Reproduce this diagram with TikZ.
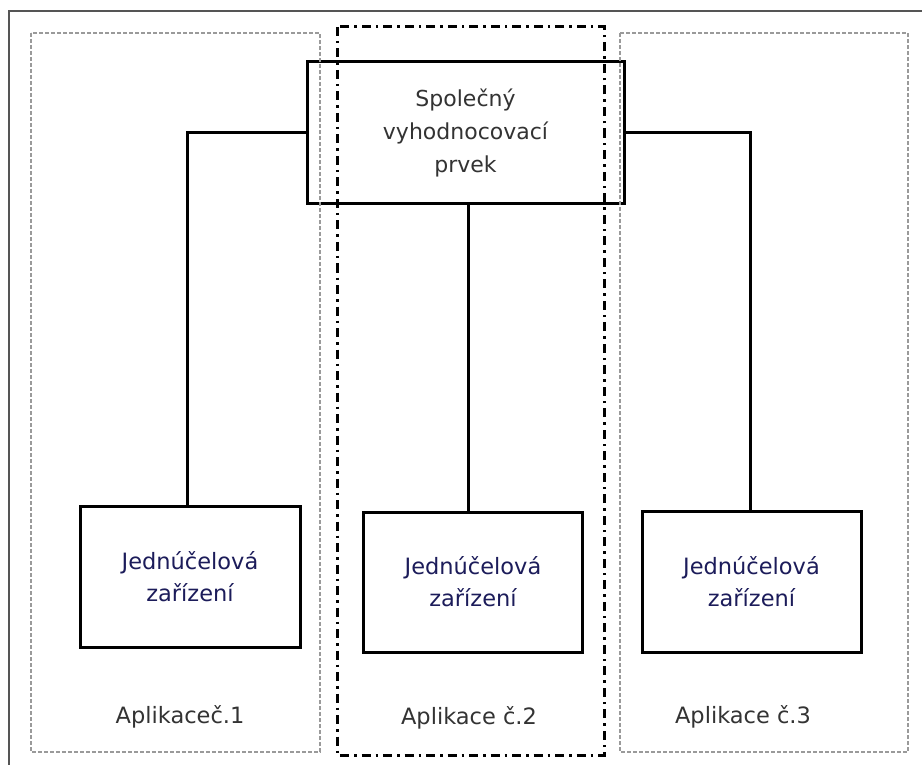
\documentclass[tikz,border=0pt]{standalone}
\usepackage{fontspec}
\setmainfont{DejaVu Sans}
\definecolor{labelgray}{HTML}{333333}
\definecolor{devtext}{HTML}{1C1C5A}
\definecolor{framegray}{HTML}{555555}
\definecolor{groupgray}{HTML}{9A9A9A}
\begin{document}
\begin{tikzpicture}[x=1pt,y=-1pt,
  box/.style={draw=black,line width=3pt,align=center,inner sep=0pt},
  devbox/.style={box,minimum width=220pt,minimum height=141pt,text=devtext,
    font=\fontsize{22.5}{32}\selectfont},
  link/.style={draw=black,line width=3pt},
  group/.style={draw=groupgray,line width=1.4pt,dash pattern=on 4pt off 2pt},
  maingroup/.style={draw=black,line width=3pt,dash pattern=on 9pt off 5pt on 2.5pt off 5pt},
  grouplabel/.style={text=labelgray,font=\fontsize{22.5}{26}\selectfont,inner sep=0pt}]
\useasboundingbox (0,0) rectangle (922,765);
\fill[white] (0,0) rectangle (922,765);
% outer frame (top and left edges)
\draw[framegray,line width=1.3pt] (9,765) -- (9,11) -- (922,11);
% shared evaluation element
\node[box,minimum width=317pt,minimum height=142pt,text=labelgray,
  font=\fontsize{22}{33}\selectfont] (top) at (465.5,133)
  {Společný\\vyhodnocovací\\prvek};
% single-purpose devices
\node[devbox] (dev1) at (190,576.5) {Jednúčelová\\zařízení};
\node[devbox,minimum width=219pt,minimum height=140pt] (dev2) at (473,582) {Jednúčelová\\zařízení};
\node[devbox,minimum width=219pt,minimum height=141pt] (dev3) at (751.5,581.5) {Jednúčelová\\zařízení};
% connectors
\coordinate (j1) at (187,133);
\coordinate (j3) at (750,133);
\draw[link] (top.west) -- (j1) -- (j1 |- dev1.north);
\draw[link] (top.east) -- (j3) -- (j3 |- dev3.north);
\draw[link] ([xshift=2.5pt]top.south) -- ([xshift=2.5pt]top.south |- dev2.north);
% application groups, drawn over the shared element
\draw[group] (31,33) rectangle (320,752);
\draw[group] (620,33) rectangle (908,752);
\draw[maingroup] (337,27) rectangle (604,755);
% group labels
\node[grouplabel] (l1) at (180,717) {Aplikaceč.1};
\node[grouplabel] (l2) at (469,718) {Aplikace č.2};
\node[grouplabel] (l3) at (743,717) {Aplikace č.3};
\end{tikzpicture}
\end{document}
